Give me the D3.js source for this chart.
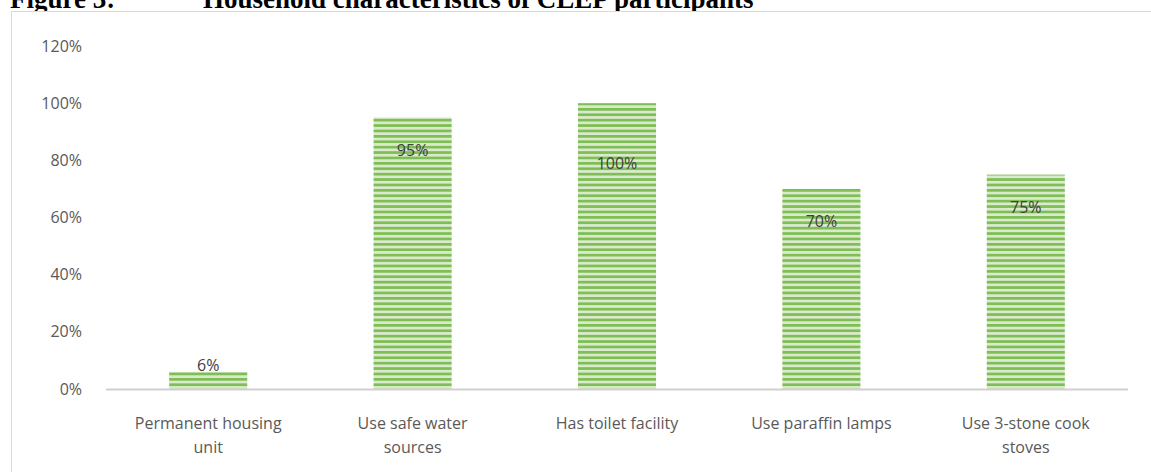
<!DOCTYPE html>
<html>
<head>
<meta charset="utf-8">
<script src="https://cdn.jsdelivr.net/npm/d3@7"></script>
<style>
  html, body { margin: 0; padding: 0; background: #fff; }
  svg { display: block; }
</style>
</head>
<body>
<svg id="chart" width="1151" height="472"></svg>
<script>
// chart data
var categories = ["Permanent housing unit", "Use safe water sources", "Has toilet facility", "Use paraffin lamps", "Use 3-stone cook stoves"];
var catLines = [["Permanent housing", "unit"], ["Use safe water", "sources"], ["Has toilet facility"], ["Use paraffin lamps"], ["Use 3-stone cook", "stoves"]];
var values = [6, 95, 100, 70, 75];
var valueLabels = ["6%", "95%", "100%", "70%", "75%"];
// where each data label sits, in axis units
var labelAt = [8.4, 83.5, 79, 58.7, 63.7];
var yTicks = [0, 20, 40, 60, 80, 100, 120];

const svg = d3.select("#chart"),
      x   = d3.scaleBand().domain(categories).range([106, 1128]).paddingInner(0.618).paddingOuter(0.309),
      y   = d3.scaleLinear().domain([0, 120]).range([389, 46]);

// striped fill like the excel pattern
var defs = svg.append("defs");
var pat = defs.append("pattern")
    .attr("id", "stripes")
    .attr("patternUnits", "userSpaceOnUse")
    .attr("width", 10)
    .attr("height", 5.4);
pat.append("rect").attr("width", 10).attr("height", 5.4).attr("fill", "#d9ebcc");
pat.append("rect").attr("y", 0).attr("width", 10).attr("height", 2.7).attr("fill", "#7fbd55");

// title (the page crops its top half, as in the document)
svg.append("text")
    .attr("x", 10)
    .attr("y", 8)
    .style("font-family", "'Liberation Serif', 'Times New Roman', serif")
    .style("font-weight", "bold")
    .style("font-size", "27px")
    .attr("fill", "#000")
    .text("Figure 3:");
svg.append("text")
    .attr("x", 203)
    .attr("y", 8)
    .style("font-family", "'Liberation Serif', 'Times New Roman', serif")
    .style("font-weight", "bold")
    .style("font-size", "27px")
    .attr("fill", "#000")
    .text("Household characteristics of CLEP participants");

// chart area border
svg.append("rect")
    .attr("x", 11.5)
    .attr("y", 11.5)
    .attr("width", 1160)
    .attr("height", 480)
    .attr("fill", "#fff")
    .attr("stroke", "#d9d9d9")
    .attr("stroke-width", 1);

// y axis labels (no line, no gridlines)
svg.append("g")
    .attr("transform", "translate(82,0)")
    .call(d3.axisLeft(y).tickValues(yTicks).tickSize(0).tickPadding(0).tickFormat(d => d + "%"))
    .call(g => g.select(".domain").remove())
    .call(g => g.selectAll("text")
        .style("font-family", "'Open Sans', sans-serif")
        .style("font-size", "16px")
        .attr("fill", "#595959"));

// bars
svg.selectAll(".bar")
    .data(values)
    .enter().append("rect")
    .attr("class", "bar")
    .attr("x", (d, i) => x(categories[i]))
    .attr("y", d => y(d))
    .attr("width", x.bandwidth())
    .attr("height", d => y(0) - y(d))
    .attr("fill", "url(#stripes)");

// x axis line
svg.append("line")
    .attr("x1", 106)
    .attr("x2", 1128)
    .attr("y1", y(0) + 0.5)
    .attr("y2", y(0) + 0.5)
    .attr("stroke", "#d0d0d0")
    .attr("stroke-width", 2);

// category labels
var cl = svg.selectAll(".cat")
    .data(catLines)
    .enter().append("text")
    .attr("class", "cat")
    .attr("text-anchor", "middle")
    .style("font-family", "'Open Sans', sans-serif")
    .style("font-size", "16px")
    .attr("fill", "#595959");
cl.selectAll("tspan")
    .data((d, i) => d.map(t => ({t: t, i: i})))
    .enter().append("tspan")
    .attr("x", d => x(categories[d.i]) + x.bandwidth() / 2)
    .attr("y", (d, j) => 429 + j * 24)
    .text(d => d.t);

// data labels
svg.selectAll(".vlab")
    .data(valueLabels)
    .enter().append("text")
    .attr("class", "vlab")
    .attr("text-anchor", "middle")
    .attr("x", (d, i) => x(categories[i]) + x.bandwidth() / 2)
    .attr("y", (d, i) => y(labelAt[i]))
    .attr("dy", "0.35em")
    .style("font-family", "'Open Sans', sans-serif")
    .style("font-size", "16px")
    .attr("fill", "#404040")
    .text(d => d);
</script>
</body>
</html>
